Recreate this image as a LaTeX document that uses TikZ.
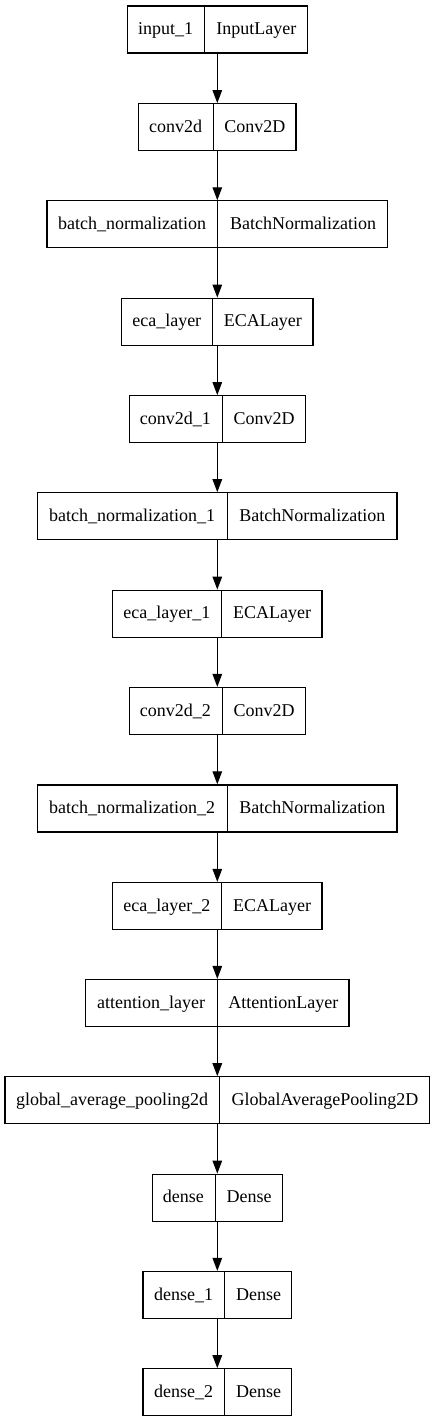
\documentclass[tikz,border=0pt]{standalone}
\usepackage{fontspec}
\setmainfont{Liberation Serif}
\usepackage{tikz}
\usetikzlibrary{positioning, arrows.meta, shapes.multipart}

\newcommand{\cell}[2]{\makebox[#1pt]{\rule[-18.5pt]{0pt}{47pt}#2}}
\tikzset{layer/.style={rectangle split, rectangle split horizontal, rectangle split parts=2,
    draw=black, line width=1.2pt, inner xsep=0pt, inner ysep=0pt,
    font=\fontsize{18}{21.6}\selectfont}}

\begin{document}
\begin{tikzpicture}[x=1pt, y=-1pt, >={Triangle[length=13pt, width=9.5pt]}, line width=1.2pt]
    \useasboundingbox (0,0) rectangle (435,1423);

    \node[layer] (inp) at (217.3,29.5) {\cell{76.8}{input\_1}\nodepart{two}\cell{102.2}{InputLayer}};

    \node[layer] (cv) at (217.3,127.2) {\cell{74.1}{conv2d}\nodepart{two}\cell{82.2}{Conv2D}};
    \path [->] (inp) edge (cv);

    \node[layer] (bn) at (217.3,224.4) {\cell{170.2}{batch\_normalization}\nodepart{two}\cell{169.1}{BatchNormalization}};
    \path [->] (cv) edge (bn);

    \node[layer] (eca) at (217.3,321.7) {\cell{90.1}{eca\_layer}\nodepart{two}\cell{99.9}{ECALayer}};
    \path [->] (bn) edge (eca);

    \node[layer] (cv1) at (217.3,419.2) {\cell{92.5}{conv2d\_1}\nodepart{two}\cell{82.5}{Conv2D}};
    \path [->] (eca) edge (cv1);

    \node[layer] (bn1) at (217.3,516.3) {\cell{188.8}{batch\_normalization\_1}\nodepart{two}\cell{169.2}{BatchNormalization}};
    \path [->] (cv1) edge (bn1);

    \node[layer] (eca1) at (217.3,613.7) {\cell{108.5}{eca\_layer\_1}\nodepart{two}\cell{99.8}{ECALayer}};
    \path [->] (bn1) edge (eca1);

    \node[layer] (cv2) at (217.3,711) {\cell{92.5}{conv2d\_2}\nodepart{two}\cell{82.5}{Conv2D}};
    \path [->] (eca1) edge (cv2);

    \node[layer] (bn2) at (217.3,808.4) {\cell{188.8}{batch\_normalization\_2}\nodepart{two}\cell{169.2}{BatchNormalization}};
    \path [->] (cv2) edge (bn2);

    \node[layer] (eca2) at (217.3,906) {\cell{108.5}{eca\_layer\_2}\nodepart{two}\cell{99.8}{ECALayer}};
    \path [->] (bn2) edge (eca2);

    \node[layer] (att) at (217.3,1003) {\cell{130.8}{attention\_layer}\nodepart{two}\cell{131.2}{AttentionLayer}};
    \path [->] (eca2) edge (att);

    \node[layer] (gap) at (217.3,1100.3) {\cell{214.2}{global\_average\_pooling2d}\nodepart{two}\cell{209.1}{GlobalAveragePooling2D}};
    \path [->] (att) edge (gap);

    \node[layer] (d0) at (217.3,1197.7) {\cell{62.5}{dense}\nodepart{two}\cell{66.5}{Dense}};
    \path [->] (gap) edge (d0);

    \node[layer] (d1) at (217.3,1295) {\cell{81.2}{dense\_1}\nodepart{two}\cell{66.1}{Dense}};
    \path [->] (d0) edge (d1);

    \node[layer] (d2) at (217.3,1392.3) {\cell{81.2}{dense\_2}\nodepart{two}\cell{66.1}{Dense}};
    \path [->] (d1) edge (d2);

  \end{tikzpicture}
\end{document}
